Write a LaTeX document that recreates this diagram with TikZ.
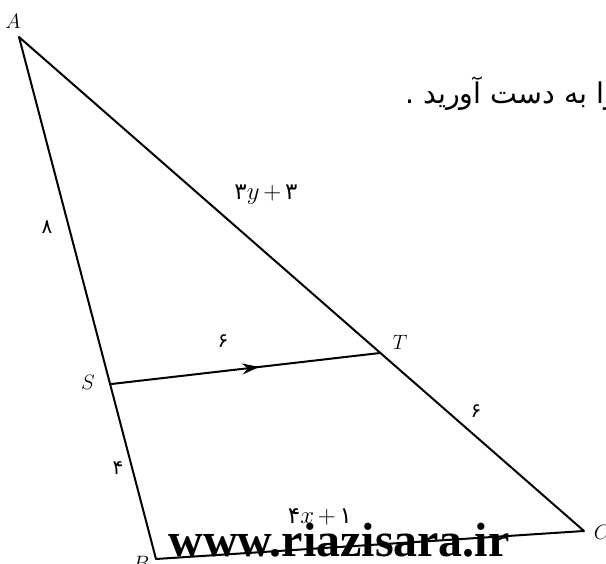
\documentclass[tikz,border=0pt]{standalone}
\usepackage{fontspec}
\newfontfamily\arabicfont[Script=Arabic]{DejaVu Sans}
\newfontfamily\wmfont{Liberation Serif}
\TeXXeTstate=1
\usetikzlibrary{arrows.meta,decorations.markings}
\begin{document}
\begin{tikzpicture}[x=1pt,y=-1pt,
  edge/.style={line width=2pt, line cap=round, line join=round},
  ptlabel/.style={font=\fontsize{22}{22}\selectfont, inner sep=0pt},
  numlabel/.style={font=\arabicfont\fontsize{20}{20}\selectfont, inner sep=0pt},
  exprlabel/.style={font=\fontsize{23}{23}\selectfont, inner sep=0pt},
]
\useasboundingbox (0,0) rectangle (606,564);
\clip (0,0) rectangle (606,564);
\coordinate (A) at (19,37);
\coordinate (B) at (156,559);
\coordinate (C) at (584,531);
\coordinate (S) at (111.5,384);
\coordinate (T) at (380,353);
\draw[edge] (A) -- (B) -- (C) -- cycle;
\draw[edge, decoration={markings, mark=at position 0.55 with {\arrow{Stealth[length=17pt,width=11pt]}}}, postaction=decorate] (S) -- (T);

\node[ptlabel] (lA) at (13,21) {$A$};
\node[ptlabel] (lB) at (141,563) {$B$};
\node[ptlabel] (lC) at (602,532) {$C$};
\node[ptlabel] (lS) at (88,382) {$S$};
\node[ptlabel] (lT) at (400,342) {$T$};

\node[numlabel] (n8) at (47,227) {۸};
\node[numlabel] (n4) at (118,468) {۴};
\node[numlabel] (n6a) at (223,341) {۶};
\node[numlabel] (n6b) at (476,411) {۶};
\node[exprlabel] (ey) at (266,195) {{\arabicfont ۳}$y$\,$+$\,{\arabicfont ۳}};
\node[exprlabel] (ex) at (320,517) {{\arabicfont ۴}$x$\,$+$\,{\arabicfont ۱}};

\node[font=\arabicfont\fontsize{28.5}{28.5}\selectfont, anchor=base west, inner sep=0pt] (q) at (405,104) {\beginR را به دست آورید .\endR};

\node[font=\wmfont\bfseries\fontsize{48}{48}\selectfont, anchor=base, inner sep=0pt] (wm) at (339,556) {www.riazisara.ir};
\end{tikzpicture}
\end{document}
